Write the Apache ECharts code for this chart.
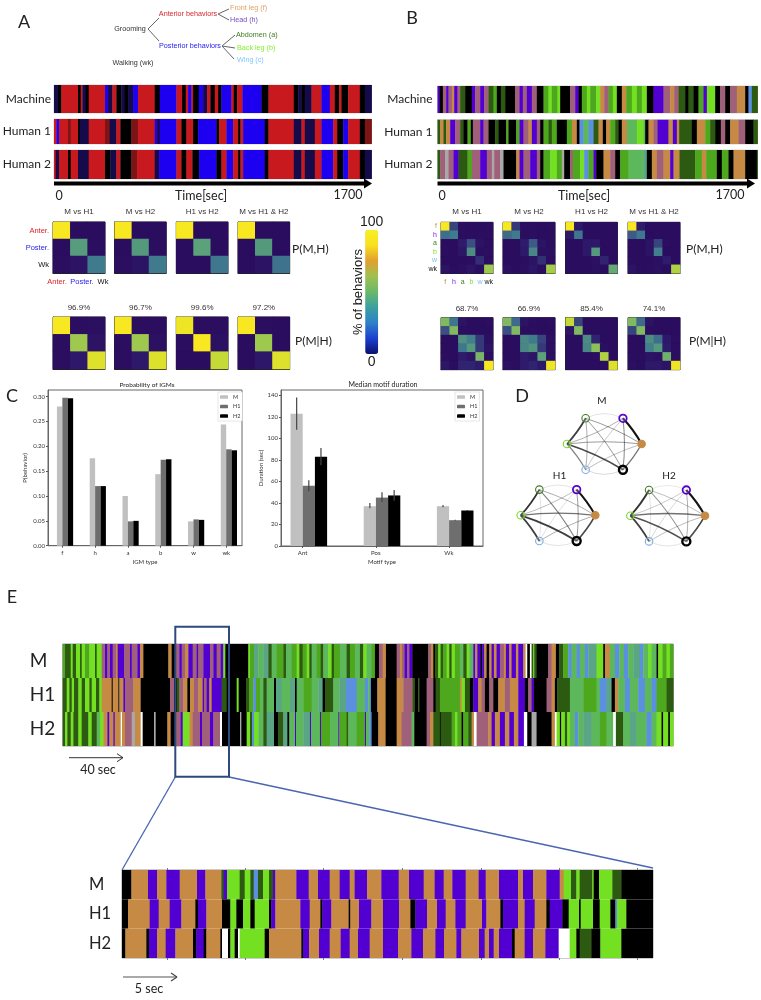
<!DOCTYPE html>
<html><head><meta charset="utf-8">
<style>html,body{margin:0;padding:0;background:#fff}#c{width:761px;height:1000px}</style>
<script src="https://cdn.jsdelivr.net/npm/echarts@6/dist/echarts.min.js"></script>
</head><body><div id="c"></div>
<script>
// ---------- ethogram data: behaviour code + end time bin ----------
const motifRowsLabels = ["Machine","Human 1","Human 2"];
const A_M  = "n175 k185 r235 k243 r248 n258 k267 r316 b325 n338 r350 k365 n375 k385 n400 b415 r465 k480 b530 r547 k558 r565 b575 r580 k597 b610 n622 r632 k645 r655 k665 b695 r702 k712 r728 b785 k806 r882 k895 n905 k915 n935 r965 b990 r1005 k1018 r1025 k1045 r1080 k1095 n1115";
const A_H1 = "r170 b178 r205 d213 r235 k240 n267 r316 d330 n350 r362 k395 d415 r465 b472 n480 b530 r545 k560 r580 k595 b650 k658 r680 b700 r715 k722 r730 b795 k806 r882 n905 r915 n945 r965 b1000 r1012 k1030 b1045 r1080 k1095 d1115";
const A_H2 = "r168 n178 r205 k213 r235 n267 r316 k332 n350 r362 k395 d412 r465 n478 b530 r545 k560 r578 k598 b650 k665 r680 b700 r715 k722 r730 b795 k806 r882 n905 r915 n945 r965 b1000 r1012 k1030 b1045 r1080 k1095 n1115";
const B_M  = "h178 k188 m198 h205 m215 f222 h232 m240 a255 k275 h285 m300 h312 m325 a340 c350 k362 a375 k405 m418 h428 m440 h455 m470 k490 c505 b515 c532 b540 k570 m585 h595 k605 c620 b630 c648 b660 f672 m685 c698 b710 k725 f738 c755 b770 c785 b800 k820 h850 m870 f882 m895 a915 k925 a940 k955 c970 h980 b995 b1005 k1020 m1035 k1050 m1070 f1095 k1105 w1115 a1132";
const B_H1 = "a180 f190 a198 f210 h225 m240 a250 k262 c272 k278 m300 h310 m325 k345 a355 k378 c385 k408 c418 h430 m445 f455 h470 m480 k490 c505 a515 c530 k560 c575 f590 k598 w610 g625 w640 a655 f668 k678 f690 c705 a715 k725 f740 g770 b790 g795 k805 f820 m832 h865 f878 h890 f897 a935 k950 f975 c990 a1005 k1022 m1035 k1050 f1075 m1095 k1120 a1132";
const B_H2 = "a180 m195 y205 m220 h235 a262 c275 m300 h320 m335 y342 m360 y370 k408 f418 h430 m450 h470 m480 k490 c510 b530 c545 y552 k570 m578 c600 b612 w625 c640 h648 k670 f690 m705 k720 c745 g790 t800 k815 f830 m850 f870 h880 f898 a945 c965 f978 c1010 k1025 c1045 k1060 f1095 k1130 a1132";
const E_M  = "c45 a62 b68 a78 b90 a95 b105 c118 b135 a140 b155 m165 h172 m180 h188 m198 f203 h222 m240 h245 m262 h270 f280 k355 f365 k375 m388 h395 m405 f415 h428 m440 h445 m460 h480 m490 h500 m512 h520 b526 k595 b600 c612 t625 g640 t655 a665 g680 c700 a708 g725 c740 b748 a758 c770 b778 a785 g800 c812 a820 g835 b845 a852 c870 g890 a900 c915 g930 a940 b950 g965 c975 k987 m998 f1008 k1040 m1050 f1056 m1064 h1072 m1078 h1087 k1135 m1143 f1150 k1155 a1165 b1172 a1180 c1190 b1198 a1205 b1215 c1230 g1240 a1250 b1258 g1270 h1276 f1282 h1292 k1297 h1303 f1310 k1318 f1325 h1332 f1340 h1350 m1362 f1368 h1378 f1385 h1398 f1405 h1420 f1427 x1432 k1440 x1445 a1450 b1453 a1460 k1495 m1505 f1518 k1528 a1540 c1555 w1565 g1580 w1590 g1605 w1615 t1640 b1660 k1665 f1680 g1695 w1708 g1722 w1735 g1750 t1770 w1780 g1795 b1805 g1820 k1825 b1838 c1850 b1860 c1870";
const E_H1 = "a50 b58 a65 b72 a85 b95 a105 b118 a125 b138 a148 b155 f185 k188 f205 k208 f220 h225 m250 f272 k360 m372 k380 a388 m400 f412 k420 f432 m445 f458 h462 m470 h478 f485 h515 a530 k560 b566 k588 a598 c610 w618 c630 g640 a650 g672 k678 t695 g720 t735 k740 g760 c785 g805 t818 k825 a850 g868 t888 w920 g945 w955 g960 w963 k982 f1007 k1040 f1060 m1088 a1095 k1105 a1108 k1130 m1150 k1157 a1170 c1230 f1235 b1245 a1260 k1270 h1285 f1295 m1305 k1318 m1330 k1345 f1365 m1380 f1405 h1425 k1435 m1445 h1452 k1490 m1505 f1515 k1522 a1560 g1600 c1640 g1650 w1670 t1685 k1695 f1705 g1725 w1740 g1765 w1785 g1805 w1820 c1850 a1870";
const E_H2 = "a45 b52 a62 b70 a85 b95 a115 b125 a140 g150 b160 f172 h178 f190 h194 f212 x216 f225 m245 y255 f272 x278 k312 y317 k352 f362 k375 m392 h398 b418 f428 m450 h456 m480 h490 m510 x516 k570 y574 k590 b600 a606 w612 b625 g640 a650 t672 k685 a700 t712 k718 g735 h738 g760 t780 h783 g810 h813 c840 g865 h868 c890 a895 g920 c945 h948 g958 w965 k985 f1007 k1040 f1055 m1085 g1093 k1130 m1140 f1150 a1170 k1172 a1205 c1215 b1222 c1235 k1240 c1255 a1265 f1272 x1280 m1315 f1325 h1335 f1350 h1365 f1378 h1392 f1405 h1422 x1432 k1445 y1460 k1505 f1515 x1520 b1530 k1534 b1545 a1552 b1560 g1575 w1585 g1600 t1625 g1650 c1670 g1690 x1698 a1720 g1740 t1760 g1790 w1805 g1820 b1835 k1840 b1855 k1860 b1870";
const Z_M  = "k155 f205 h232 f260 h300 f352 h377 f425 a432 h442 b480 a495 b512 a522 w535 a550 b568 a580 h587 f650 h687 f715 h750 f780 h810 f825 h862 f905 h957 f988 h1032 f1065 h1092 f1118 h1158 f1197 h1218 f1258 h1315 f1330 h1360 f1400 h1440 f1452 b1474 a1490 b1500 a1538 b1542 k1558 b1598 a1625 k1720";
const Z_H1 = "k145 f210 h237 f270 h305 f347 k355 h380 f427 k452 b470 k490 b512 k525 b568 k575 h587 f662 h690 f722 k728 h755 f807 k812 f838 h875 f910 h958 f992 k1007 h1042 f1072 h1098 f1127 h1158 f1207 h1220 f1262 k1270 h1315 f1335 h1365 f1400 k1410 h1448 k1467 b1498 k1503 b1540 k1560 b1592 k1607 w1612 b1640 k1720";
const Z_H2 = "k137 f200 k208 h232 f258 h287 f340 k350 h372 k380 f422 k427 x445 k452 b465 k475 x480 b555 k568 f665 k670 h688 f718 h750 f783 h810 f835 h870 f910 h955 f995 h1030 f1067 h1093 f1130 h1145 f1198 h1215 f1228 h1242 f1258 h1297 k1305 f1335 h1360 f1397 h1437 x1470 b1490 k1500 a1535 k1562 b1625 k1720";

// ---------- confusion matrices (% of behaviours) ----------
const motifLabels = ["Anter.","Poster.","Wk"];
const igmLabels = ["f","h","a","b","w","wk"];
const pairTitles = ["M vs H1","M vs H2","H1 vs H2","M vs H1 & H2"];
const A_joint = [
 [[100,2,2],[2,58,3],[3,6,38]],
 [[100,2,2],[2,56,3],[3,7,38]],
 [[100,2,2],[2,62,2],[2,2,36]],
 [[100,2,2],[2,56,2],[2,6,34]]];
const A_cond = [
 [[100,3,4],[3,80,6],[3,10,95]],
 [[100,3,3],[3,80,5],[3,10,95]],
 [[98,3,3],[3,100,5],[2,2,90]],
 [[100,3,2],[2,80,2],[2,9,95]]];
const A_acc = ["96.9%","96.7%","99.6%","97.2%"];
const B_joint = [
 [[100,20,3,2,2,3],[32,38,3,3,3,3],[2,2,12,22,6,3],[3,2,8,48,3,4],[2,2,2,3,16,3],[6,2,4,8,3,80]],
 [[100,18,3,3,2,3],[30,38,3,3,2,2],[2,2,12,24,6,3],[2,2,10,45,4,4],[2,2,3,6,16,3],[5,2,4,8,3,82]],
 [[100,10,2,2,2,2],[10,35,2,2,2,2],[2,2,10,10,2,2],[2,2,10,55,2,2],[2,2,2,5,14,2],[2,2,2,4,2,65]],
 [[100,12,2,2,2,2],[24,36,2,2,2,2],[2,2,6,20,3,2],[2,2,6,40,2,2],[2,2,2,4,12,2],[6,2,3,5,2,85]]];
const B_cond = [
 [[72,35,6,2,2,3],[22,72,3,2,2,2],[2,2,50,40,18,4],[2,2,36,55,18,6],[3,2,12,6,70,3],[8,2,14,14,12,100]],
 [[72,30,6,3,2,3],[22,72,3,3,2,2],[2,2,45,38,20,4],[2,2,45,52,18,4],[2,2,12,8,62,4],[5,3,12,14,10,98]],
 [[90,20,2,2,2,2],[8,72,2,2,2,2],[2,2,48,14,2,2],[2,2,45,75,4,2],[2,2,2,3,85,2],[2,2,2,2,3,95]],
 [[72,30,6,2,2,2],[20,72,3,2,2,2],[2,2,48,32,10,3],[2,2,40,55,12,3],[2,2,6,5,68,3],[4,2,10,10,6,98]]];
const B_acc = ["68.7%","66.9%","85.4%","74.1%"];

// ---------- bar charts ----------
const barNames = ["M","H1","H2"];
const igmProb = {M:[.28,.176,.10,.144,.049,.244],H1:[.298,.12,.049,.173,.053,.194],H2:[.297,.12,.05,.174,.052,.192]};
const durCats = ["Ant","Pos","Wk"];
const durMed = {M:[123,37,37],H1:[56,45,24],H2:[83,47,33]};
const durLo = {M:[108,35,36],H1:[51,41,23.5],H2:[75,42,32.5]};
const durHi = {M:[138,40,38],H1:[61,50,24.5],H2:[91,52,33.5]};

// ---------- transition graphs ----------
const nodeNames = ["a","h","f","wk","w","b"];
const nodeX = [-.5,.5,1,.5,-.5,-1];
const nodeY = [1,1,0,-1,-1,0];
const edgesM = [[1,2,1],[0,5,.8],[5,3,.75],[5,4,.45],[2,3,.55],[0,3,.35],[0,2,.35],[1,5,.3],[5,2,.35],[1,3,.4],[4,2,.25],[4,1,.2],[0,4,.3],[0,1,.1],[3,4,.15]];
const edgesH1 = [[1,2,1],[0,5,.85],[5,4,.8],[5,3,.8],[2,3,.75],[0,3,.45],[0,2,.3],[1,5,.25],[5,2,.55],[1,3,.35],[4,2,.3],[4,1,.12],[0,4,.1],[0,1,.1],[3,4,.1]];
const edgesH2 = [[1,2,1],[0,5,.85],[5,4,.8],[5,3,.7],[2,3,.75],[0,3,.4],[0,2,.25],[1,5,.2],[5,2,.55],[1,3,.3],[4,2,.25],[4,1,.15],[0,4,.1],[0,1,.08],[3,4,.1]];

// ---------- styles ----------
const FONT = "Lato";
const motifColors = {r:'#c8191e',b:'#1e00f0',k:'#000000',n:'#150a4a',d:'#7d1416'};
const igmColors = {f:'#c68a45',h:'#5200d2',a:'#2c5a10',b:'#74e022',w:'#5b8fe0',k:'#000000',x:'#ffffff',m:'#a0607a',g:'#5cb85a',t:'#5aa585',c:'#4ea81e',y:'#a8a8a8'};
const nodeColors = ['#3f7a22','#5a00d0','#c68a45','#000000','#7aaeea','#6fdc1e'];
const heatRamp = ['#2a0a5c','#2e1c6c','#3f5f8a','#3f7a8e','#4f9080','#5ca37a','#8cc05a','#b8d63c','#f8e821'];
const barRamp = ['#0b0f6e','#1c3fd0','#2f80c8','#3aa0a0','#6ab86a','#9fc050','#e0a030','#f8e020','#f8f020'];
const labelColor = {"Anter.":'#d9252a',"Poster.":'#2a20f0',"Wk":'#111',f:'#c68a45',h:'#7a20e0',a:'#3f7a22',b:'#7ce030',w:'#7fc0f0',wk:'#111'};

const grids=[],xAxes=[],yAxes=[],series=[],gfx=[];
function addGrid(rect,x,y,extraX){
  const i=grids.length; grids.push(Object.assign({outerBoundsMode:'none'},rect));
  const xi=xAxes.length; xAxes.push(Object.assign({gridIndex:i},x));
  if(extraX) xAxes.push(Object.assign({gridIndex:i},extraX));
  yAxes.push(Object.assign({gridIndex:i},y));
  return {x:xi,y:i};
}
function decode(str,start,row,codes){
  let s=start; return str.split(' ').map(t=>{
    const e=+t.slice(1); const d=[s,e,row,codes.indexOf(t[0])]; s=e; return d;});
}
function ethoSeries(ax,rows,start,colors){
  const codes=Object.keys(colors), pal=codes.map(c=>colors[c]);
  const data=[]; rows.forEach((r,i)=>data.push(...decode(r,start,i,codes)));
  series.push({type:'custom',xAxisIndex:ax.x,yAxisIndex:ax.y,clip:true,silent:true,
    encode:{x:[0,1],y:2},data,
    renderItem(p,api){
      const a=api.coord([api.value(0),api.value(2)]),b=api.coord([api.value(1),api.value(2)]);
      const h=api.size([0,1])[1];
      return {type:'rect',shape:{x:a[0],y:a[1]-h/2,width:b[0]-a[0]+.4,height:h},style:{fill:pal[api.value(3)]}};
    }});
}
function T(text,x,y,o={}){
  gfx.push({type:'text',x,y,rotation:o.rot||0,z:20,style:{text,fill:o.color||'#222',
    font:`${o.weight||'normal'} ${o.size||10}px "${o.font||FONT}"`,textAlign:o.align||'center',textVerticalAlign:'middle'}});
}
function L(x1,y1,x2,y2,color,w){
  gfx.push({type:'line',z:20,shape:{x1,y1,x2,y2},style:{stroke:color||'#666',lineWidth:w||1}});
}
function arrowHead(x,y,color,w){ L(x-6,y-4,x,y,color,w); L(x-6,y+4,x,y,color,w); }

// ---------- ethogram strips A / B ----------
function strip(left,width,top,height,label,row,start,end,colors,margin){
  const ax=addGrid({left,top,width,height,show:true,borderColor:'#aaa',borderWidth:.5},
    {type:'value',min:start,max:end,show:false,splitLine:{show:false}},
    {type:'category',data:[label],axisLine:{show:false},axisTick:{length:2,lineStyle:{color:'#333'}},
     axisLabel:{fontSize:12,color:'#222',fontFamily:FONT,margin:margin}});
  ethoSeries(ax,[row],start,colors);
}
[[85,28,A_M],[119,25,A_H1],[150,29,A_H2]].forEach((r,i)=>strip(54,317.5,r[0],r[1],motifRowsLabels[i],r[2],163,1115,motifColors,3));
[[86,27,B_M],[119.5,24.5,B_H1],[150,29,B_H2]].forEach((r,i)=>strip(437.5,320,r[0],r[1],motifRowsLabels[i],r[2],172,1132,igmColors,5));

function bigArrow(x1,x2,y){
  gfx.push({type:'rect',z:20,shape:{x:x1,y:y-2,width:x2-x1-6,height:4},style:{fill:'#000'}});
  gfx.push({type:'polygon',z:20,shape:{points:[[x2-8,y-5],[x2,y],[x2-8,y+5]]},style:{fill:'#000'}});
}
bigArrow(54,372,183.5); bigArrow(437.5,755,183.5);
T("0",59,196,{size:12.5}); T("Time[sec]",201,196,{size:12.5}); T("1700",348,195,{size:12.5});
T("0",442,196,{size:12.5}); T("Time[sec]",584,196,{size:12.5}); T("1700",730,195,{size:12.5});

// ---------- heat maps ----------
const heatIdx=[];
function heat(left,top,w,h,mat,labels,showY,showX,fs){
  const cats=labels;
  const ax=addGrid({left,top,width:w,height:h,show:true,borderColor:'#222',borderWidth:1,backgroundColor:heatRamp[0]},
    {type:'category',data:cats,position:'bottom',splitLine:{show:false},splitArea:{show:false},
     axisLine:{show:true,lineStyle:{color:'#222',width:1}},axisTick:{alignWithLabel:true,length:2,lineStyle:{color:'#333'}},
     axisLabel:{show:showX,interval:0,fontSize:fs,margin:5,fontFamily:'Liberation Sans',color:(v)=>labelColor[v]}},
    {type:'category',data:cats,inverse:true,splitLine:{show:false},splitArea:{show:false},
     axisLine:{show:true,lineStyle:{color:'#222',width:1}},axisTick:{alignWithLabel:true,length:2,lineStyle:{color:'#333'}},
     axisLabel:{show:showY,interval:0,fontSize:fs,margin:4,fontFamily:'Liberation Sans',color:(v)=>labelColor[v]}});
  const data=[]; mat.forEach((row,y)=>row.forEach((v,x)=>data.push([x,y,v])));
  heatIdx.push(series.length);
  series.push({type:'heatmap',xAxisIndex:ax.x,yAxisIndex:ax.y,data,silent:true,progressive:0,
    itemStyle:{borderWidth:0}});
}
const aCols=[[53,52],[114.7,51.5],[176.3,51.7],[238,51.7]];
const bCols=[[441,52],[503,52],[565.7,51.7],[628,52]];
aCols.forEach((c,i)=>{
  heat(c[0],222,c[1],51,A_joint[i],motifLabels,i===0,false,7.5);
  heat(c[0],317,c[1],52,A_cond[i],motifLabels,false,false,8);
  T(pairTitles[i],c[0]+c[1]/2,212,{size:8,color:'#333',font:'Liberation Sans'});
  T(A_acc[i],c[0]+c[1]/2,308,{size:8,color:'#333',font:'Liberation Sans'});
});
T(motifLabels[0],57,281.5,{size:7.5,color:labelColor["Anter."],font:'Liberation Sans'});
T(motifLabels[1],82,281.5,{size:7.5,color:labelColor["Poster."],font:'Liberation Sans'});
T(motifLabels[2],103,281.5,{size:7.5,color:labelColor["Wk"],font:'Liberation Sans'});
bCols.forEach((c,i)=>{
  heat(c[0],222.3,c[1],51,B_joint[i],igmLabels,i===0,i===0,7);
  heat(c[0],317.7,c[1],52,B_cond[i],igmLabels,false,false,7);
  T(pairTitles[i],c[0]+c[1]/2,212,{size:8,color:'#333',font:'Liberation Sans'});
  T(B_acc[i],c[0]+c[1]/2,309,{size:8,color:'#333',font:'Liberation Sans'});
});
T("P(M,H)",292,249,{size:12,align:'left'}); T("P(M|H)",295,341,{size:12,align:'left'});
T("P(M,H)",686,249,{size:12,align:'left'}); T("P(M|H)",689,341,{size:12,align:'left'});
T("% of behaviors",358,292,{size:13,rot:Math.PI/2,font:'Liberation Sans'});

// dummy series that carries the colour bar scale
const dummyIdx=series.length;
series.push({type:'heatmap',xAxisIndex:0,yAxisIndex:0,data:[],silent:true});

// ---------- bar charts ----------
const barColor={M:'#c0c0c0',H1:'#6e6e6e',H2:'#000000'};
function barChart(rect,xMin,xMax,tickShift,cats,vals,barW,yMax,yInt,fmt,xName,yName){
  const ticks=cats.map((c,i)=>i+tickShift);
  const ax=addGrid(Object.assign({show:true,borderColor:'#666',borderWidth:1},rect),
    {type:'value',min:xMin,max:xMax,splitLine:{show:false},
     name:xName,nameLocation:'middle',nameGap:13,nameTextStyle:{fontSize:6,color:'#333'},
     axisLine:{onZero:false,lineStyle:{color:'#666'}},axisTick:{length:2,customValues:ticks,lineStyle:{color:'#555'}},
     axisLabel:{fontSize:6,color:'#333',margin:4,customValues:ticks,formatter:v=>cats[Math.round(v)]}},
    {type:'value',min:0,max:yMax,interval:yInt,splitLine:{show:false},
     name:yName,nameLocation:'middle',nameRotate:90,nameGap:rect.nameGap,nameTextStyle:{fontSize:6,color:'#333'},
     axisLine:{show:true,onZero:false,lineStyle:{color:'#666'}},axisTick:{show:true,length:2,lineStyle:{color:'#555'}},
     axisLabel:{fontSize:6,color:'#333',margin:3,showMaxLabel:false,formatter:fmt}});
  barNames.forEach(n=>series.push({type:'bar',name:n,xAxisIndex:ax.x,yAxisIndex:ax.y,barWidth:barW,barGap:'0%',
    itemStyle:{color:barColor[n]},silent:true,data:vals[n].map((v,i)=>[i,v])}));
  return ax;
}
barChart({left:48,top:390,width:194,height:155.7,nameGap:20},-.52,5.4,-.08,igmLabels,igmProb,5.4,.3134,.05,v=>v.toFixed(2),"IGM type","P(behavior)");
const durAx=barChart({left:281,top:390,width:202,height:156,nameGap:17},-.38,2.38,-.085,durCats,durMed,12.2,145,20,v=>String(v),"Motif type","Duration (sec)");
const durOffset={M:-.166,H1:0,H2:.166};
barNames.forEach(n=>series.push({type:'custom',xAxisIndex:durAx.x,yAxisIndex:durAx.y,silent:true,z:5,
  encode:{x:0,y:[1,2]},data:durCats.map((c,i)=>[i+durOffset[n],durLo[n][i],durHi[n][i]]),
  renderItem(p,api){
    const a=api.coord([api.value(0),api.value(1)]),b=api.coord([api.value(0),api.value(2)]);
    return {type:'line',shape:{x1:a[0],y1:a[1],x2:b[0],y2:b[1]},style:{stroke:'#444',lineWidth:1.2}};
  }}));
const barTitles=[{text:"Probability of IGMs",left:147,top:381,padding:0,textAlign:'center',textStyle:{fontSize:6.5,fontWeight:'normal',color:'#222'}},
                 {text:"Median motif duration",left:383,top:381,padding:0,textAlign:'center',textStyle:{fontSize:7,fontWeight:'normal',color:'#222'}}];
const legendBase={data:barNames,orient:'vertical',itemWidth:8,itemHeight:3.5,itemGap:3.5,padding:[2,2,2,2],
  backgroundColor:'#fff',borderColor:'#ccc',borderWidth:.5,selectedMode:false,textStyle:{fontSize:5.5,color:'#333'}};

// ---------- transition graphs ----------
function graph(cx,cy,edges){
  const rx=37.3,ry=25.7;
  const ax=addGrid({left:cx-rx,top:cy-ry,width:2*rx,height:2*ry},
    {type:'value',min:-1,max:1,show:false,splitLine:{show:false}},
    {type:'value',min:-1,max:1,show:false,splitLine:{show:false}});
  series.push({type:'graph',coordinateSystem:'cartesian2d',xAxisIndex:ax.x,yAxisIndex:ax.y,silent:true,z:4,
    data:nodeNames.map((n,i)=>({name:n,value:[nodeX[i],nodeY[i]],symbolSize:i===3?8:7.5,
      itemStyle:{color:i===2?nodeColors[2]:'rgba(255,255,255,0.2)',borderColor:nodeColors[i],borderWidth:i===3?2.4:(i===1?1.8:1.1)}})),
    links:edges.map(e=>({source:e[0],target:e[1],
      lineStyle:{width:.4+1.7*e[2],opacity:1,color:`rgba(20,20,20,${(.12+.88*e[2]).toFixed(2)})`,
        curveness:(e[0]===0&&e[1]===1)||(e[0]===3&&e[1]===4)?.25:.06}}))});
}
graph(604.3,444,edgesM); graph(558,515.3,edgesH1); graph(667.7,515.7,edgesH2);
T("M",602,401,{size:10}); T("H1",559.5,476,{size:10}); T("H2",669,476,{size:10});

// ---------- panel E ----------
function etho3(rect,rows,start,end,fs,margin,ticks){
  const mk=(pos)=>({type:'value',min:start,max:end,position:pos,splitLine:{show:false},axisLabel:{show:false},
     axisLine:{show:false},axisTick:{show:!!ticks,length:2,customValues:ticks||[],lineStyle:{color:'#777'}}});
  const ax=addGrid(Object.assign({show:true,borderColor:'#999',borderWidth:1},rect),mk('bottom'),
    {type:'category',data:["M","H1","H2"],inverse:true,axisLine:{show:false},axisTick:{length:2,lineStyle:{color:'#777'}},
     axisLabel:{fontSize:fs,color:'#222',fontFamily:FONT,margin,align:'left'}},mk('top'));
  ethoSeries(ax,rows,start,igmColors);
}
etho3({left:62.7,top:644,width:610.5,height:102},[E_M,E_H1,E_H2],38,1870,19,33);
etho3({left:122,top:870,width:531,height:88},[Z_M,Z_H1,Z_H2],127,1720,16.5,33,[262,497,732,968,1204,1438,1673]);

gfx.push({type:'rect',z:21,shape:{x:175.3,y:626.7,width:53.7,height:150},style:{fill:'none',stroke:'#2e4a7d',lineWidth:2}});
L(175.3,777,122,870,'#4a66b0',1.3); L(229,777,653,868,'#4a66b0',1.3);
L(69,757.7,123,757.7,'#333',1); arrowHead(123,757.7,'#333',1);
T("40 sec",98,770,{size:12.5});
L(123,977,177,977,'#555',1.2); arrowHead(177,977,'#444',1.2);
T("5 sec",149,989,{size:12.5});

// ---------- tree, panel letters ----------
const tc='#666';
L(148,29,159,18,tc,1); L(148,29,159,41,tc,1);
L(218,14,229,9,tc,1); L(218,14,229,20,tc,1);
L(222,46,235,35,tc,1); L(222,46,235,48,tc,1); L(222,46,234,59,tc,1);
const treeFont={size:7.2,font:'Liberation Sans'};
T("Grooming",130,29,{...treeFont,color:'#333'});
T("Anterior behaviors",188,14,{...treeFont,color:'#d9252a'});
T("Front leg (f)",230,8,{...treeFont,color:'#e0a060',align:'left'});
T("Head (h)",230,20,{...treeFont,color:'#7a4ac0',align:'left'});
T("Posterior behaviors",190,46,{...treeFont,color:'#2a20f0'});
T("Abdomen (a)",236,35,{...treeFont,color:'#3f7a22',align:'left'});
T("Back leg (b)",237,48,{...treeFont,color:'#80f030',align:'left'});
T("Wing (c)",237,60,{...treeFont,color:'#80c8ff',align:'left'});
T("Walking (wk)",133,63,{...treeFont,color:'#333'});
T("A",24,22,{size:18}); T("B",412,18,{size:18}); T("C",12,396,{size:18}); T("D",522,396,{size:18}); T("E",12,597,{size:18});

const chart=echarts.init(document.getElementById('c'),null,{renderer:'canvas'});
chart.setOption({
  animation:false,backgroundColor:'#fff',textStyle:{fontFamily:FONT},
  title:barTitles,
  grid:grids,xAxis:xAxes,yAxis:yAxes,series,graphic:{elements:gfx},
  legend:[Object.assign({left:218,top:392},legendBase),Object.assign({left:455,top:392},legendBase)],
  visualMap:[
    {type:'continuous',show:false,min:0,max:100,dimension:2,seriesIndex:heatIdx,inRange:{color:heatRamp}},
    {type:'continuous',show:true,min:0,max:100,seriesIndex:dummyIdx,left:345,top:200,itemWidth:13,itemHeight:124,
     text:['100','0'],textGap:1,calculable:false,hoverLink:false,realtime:false,
     textStyle:{fontSize:14,color:'#222',fontFamily:'Liberation Sans'},inRange:{color:barRamp}}
  ]
});
</script></body></html>
